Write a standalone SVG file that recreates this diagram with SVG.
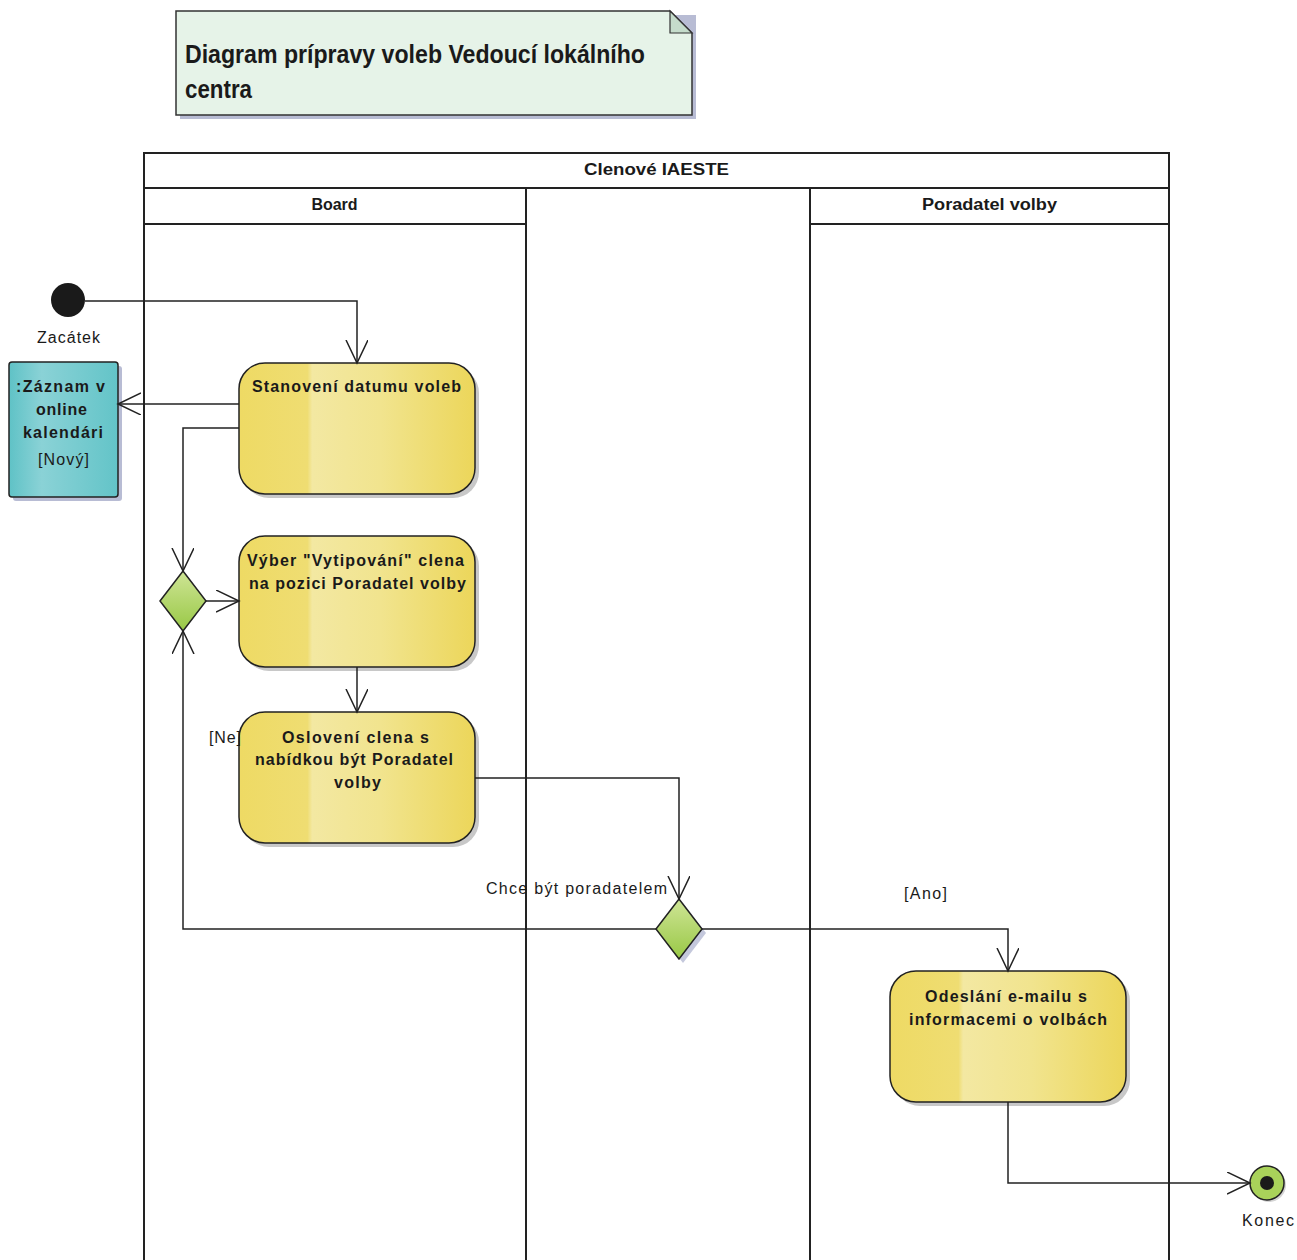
<svg xmlns="http://www.w3.org/2000/svg" width="1297" height="1260" viewBox="0 0 1297 1260">
<style>
text{font-family:"Liberation Sans",Arial,sans-serif;fill:#1a1a1a}
.b{font-weight:bold;font-size:16px}
.n{font-size:16px}
.lane{fill:none;stroke:#222;stroke-width:2}
.act{fill:url(#yg);stroke:#222;stroke-width:1.5}
.sh{fill:#c8c8c8}
.fl{fill:none;stroke:#222;stroke-width:1.5}
.dia{fill:url(#gg);stroke:#222;stroke-width:1.5}
</style>
<defs>
<linearGradient id="yg" x1="0" y1="0" x2="1" y2="0">
<stop offset="0" stop-color="#eeda64"/>
<stop offset="0.29" stop-color="#efdd72"/>
<stop offset="0.31" stop-color="#f3e8a2"/>
<stop offset="0.6" stop-color="#f1e48e"/>
<stop offset="1" stop-color="#ecd65a"/>
</linearGradient>
<linearGradient id="tg" x1="0" y1="0" x2="1" y2="0">
<stop offset="0" stop-color="#5fc2c6"/>
<stop offset="0.3" stop-color="#8ad2d6"/>
<stop offset="1" stop-color="#63c4c8"/>
</linearGradient>
<linearGradient id="gg" x1="0" y1="0" x2="0" y2="1">
<stop offset="0" stop-color="#cfe596"/>
<stop offset="1" stop-color="#98c845"/>
</linearGradient>
<marker id="ar" markerUnits="userSpaceOnUse" markerWidth="26" markerHeight="24" refX="23" refY="11" orient="auto">
<path d="M0,0 L23,11 L0,22" fill="none" stroke="#222" stroke-width="1.5"/>
</marker>
</defs>

<g id="note">
<polygon points="180,15 696,15 696,119 180,119" fill="#b8bcd4"/>
<polygon points="176,11 670,11 692,33 692,115 176,115" fill="#e6f3e8" stroke="#333" stroke-width="1.5"/>
<polygon points="670,11 670,33 692,33" fill="#c5dccb" stroke="#333" stroke-width="1.2"/>
<text x="185" y="63" font-size="25" font-weight="bold" textLength="460" lengthAdjust="spacingAndGlyphs">Diagram prípravy voleb Vedoucí lokálního</text>
<text x="185" y="98" font-size="25" font-weight="bold" textLength="67" lengthAdjust="spacingAndGlyphs">centra</text>
</g>

<g id="swimlanes">
<rect x="144" y="153" width="1025" height="1120" class="lane"/>
<line x1="144" y1="188" x2="1169" y2="188" class="lane"/>
<line x1="526" y1="188" x2="526" y2="1260" class="lane"/>
<line x1="810" y1="188" x2="810" y2="1260" class="lane"/>
<line x1="144" y1="224" x2="526" y2="224" class="lane"/>
<line x1="810" y1="224" x2="1169" y2="224" class="lane"/>
<text x="656.5" y="175" class="b" text-anchor="middle" textLength="145" lengthAdjust="spacingAndGlyphs">Clenové  IAESTE</text>
<text x="334.5" y="210" class="b" text-anchor="middle">Board</text>
<text x="989.5" y="210" class="b" text-anchor="middle" textLength="135" lengthAdjust="spacingAndGlyphs">Poradatel volby</text>
</g>

<g id="start">
<circle cx="68" cy="300" r="17" fill="#1a1a1a"/>
<text x="37" y="343" class="n" textLength="63" lengthAdjust="spacing">Zacátek</text>
</g>

<g id="zaznam">
<rect x="13" y="366" width="109" height="135" rx="3" fill="#b8bcd4"/>
<rect x="9" y="362" width="109" height="135" rx="3" fill="url(#tg)" stroke="#222" stroke-width="1.5"/>
<text x="16" y="392" class="b" textLength="89" lengthAdjust="spacing">:Záznam v</text>
<text x="36" y="415" class="b" textLength="51" lengthAdjust="spacing">online</text>
<text x="23" y="438" class="b" textLength="80" lengthAdjust="spacing">kalendári</text>
<text x="38" y="465" class="n" textLength="51" lengthAdjust="spacing">[Nový]</text>
</g>

<g id="stanoveni">
<rect x="243" y="367" width="236" height="131" rx="26" class="sh"/>
<rect x="239" y="363" width="236" height="131" rx="26" class="act"/>
<text x="252" y="392" class="b" textLength="209" lengthAdjust="spacing">Stanovení datumu voleb</text>
</g>

<g id="vyber">
<rect x="243" y="540" width="236" height="131" rx="26" class="sh"/>
<rect x="239" y="536" width="236" height="131" rx="26" class="act"/>
<text x="247" y="566" class="b" textLength="217" lengthAdjust="spacing">Výber "Vytipování" clena</text>
<text x="249" y="589" class="b" textLength="217" lengthAdjust="spacing">na pozici Poradatel volby</text>
</g>

<g id="osloveni">
<rect x="243" y="716" width="236" height="131" rx="26" class="sh"/>
<rect x="239" y="712" width="236" height="131" rx="26" class="act"/>
<text x="282" y="743" class="b" textLength="147" lengthAdjust="spacing">Oslovení clena s</text>
<text x="255" y="765" class="b" textLength="198" lengthAdjust="spacing">nabídkou být Poradatel</text>
<text x="334" y="788" class="b" textLength="47" lengthAdjust="spacing">volby</text>
</g>

<g id="odeslani">
<rect x="894" y="975" width="236" height="131" rx="26" class="sh"/>
<rect x="890" y="971" width="236" height="131" rx="26" class="act"/>
<text x="925" y="1002" class="b" textLength="162" lengthAdjust="spacing">Odeslání e-mailu s</text>
<text x="909" y="1025" class="b" textLength="198" lengthAdjust="spacing">informacemi o volbách</text>
</g>

<g id="decision1">
<polygon points="160,601 183,571 206,601 183,631" class="dia"/>
</g>

<g id="decision2">
<polygon points="660,933 683,903 706,933 683,963" fill="#c4c8dc"/>
<polygon points="656,929 679,899 702,929 679,959" class="dia"/>
</g>

<g id="end">
<circle cx="1269" cy="1185" r="17" fill="#d4d4d4"/>
<circle cx="1267" cy="1183" r="17" fill="#a9d25a" stroke="#222" stroke-width="1.5"/>
<circle cx="1267" cy="1183" r="7" fill="#1a1a1a"/>
<text x="1242" y="1226" class="n" textLength="52" lengthAdjust="spacing">Konec</text>
</g>

<g id="connectors">
<polyline points="85,301 357,301 357,363" class="fl" marker-end="url(#ar)"/>
<polyline points="239,404 118,404" class="fl" marker-end="url(#ar)"/>
<polyline points="239,428 183,428 183,571" class="fl" marker-end="url(#ar)"/>
<polyline points="206,601 239,601" class="fl" marker-end="url(#ar)"/>
<polyline points="357,667 357,712" class="fl" marker-end="url(#ar)"/>
<polyline points="475,778 679,778 679,899" class="fl" marker-end="url(#ar)"/>
<polyline points="656,929 183,929 183,631" class="fl" marker-end="url(#ar)"/>
<polyline points="702,929 1008,929 1008,971" class="fl" marker-end="url(#ar)"/>
<polyline points="1008,1102 1008,1183 1250,1183" class="fl" marker-end="url(#ar)"/>
<text x="486" y="894" class="n" textLength="181" lengthAdjust="spacing">Chce být poradatelem</text>
<text x="209" y="743" class="n" textLength="32" lengthAdjust="spacing">[Ne]</text>
<text x="904" y="899" class="n" textLength="43" lengthAdjust="spacing">[Ano]</text>
</g>
</svg>
